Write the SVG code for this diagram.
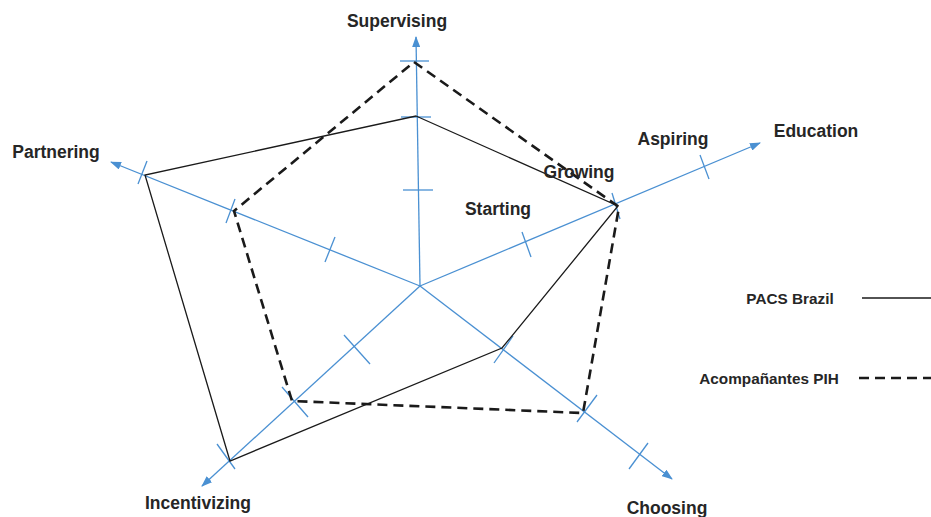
<svg xmlns="http://www.w3.org/2000/svg" width="931" height="517" viewBox="0 0 931 517">
<defs>
<marker id="arr" markerUnits="userSpaceOnUse" markerWidth="11" markerHeight="8" refX="10" refY="4" orient="auto">
<path d="M0,0 L11,4 L0,8 z" fill="#4a90d2"/>
</marker>
<style>
.ax{stroke:#4a90d2;stroke-width:1.3;fill:none}
.tk{stroke:#4a90d2;stroke-width:1.3}
.sol{stroke:#1a1a1a;stroke-width:1.3;fill:none}
.dash{stroke:#1a1a1a;stroke-width:2.6;fill:none;stroke-dasharray:10 6}
.lbl{font-family:"Liberation Sans",Arial,sans-serif;font-weight:bold;font-size:17.5px;fill:#262626}
.leg{font-family:"Liberation Sans",Arial,sans-serif;font-weight:bold;font-size:15.3px;fill:#262626}
</style>
</defs>
<rect width="931" height="517" fill="#ffffff"/>
<g id="connectors">
<g id="axes">
<line class="ax" x1="420" y1="286" x2="416" y2="37" marker-end="url(#arr)"/>
<line class="ax" x1="420" y1="286" x2="760" y2="143" marker-end="url(#arr)"/>
<line class="ax" x1="420" y1="286" x2="672" y2="479" marker-end="url(#arr)"/>
<line class="ax" x1="420" y1="286" x2="202" y2="486" marker-end="url(#arr)"/>
<line class="ax" x1="420" y1="286" x2="111" y2="162" marker-end="url(#arr)"/>
</g>
<g id="ticks">
<line class="tk" x1="403" y1="190" x2="433" y2="190"/>
<line class="tk" x1="401" y1="117" x2="431" y2="117"/>
<line class="tk" x1="400" y1="61" x2="429" y2="61"/>
<line class="tk" x1="522" y1="232" x2="531" y2="257"/>
<line class="tk" x1="612" y1="193" x2="620" y2="219"/>
<line class="tk" x1="700" y1="155" x2="709" y2="179"/>
<line class="tk" x1="494" y1="363" x2="513" y2="336"/>
<line class="tk" x1="577" y1="422" x2="597" y2="395"/>
<line class="tk" x1="629" y1="469" x2="648" y2="443"/>
<line class="tk" x1="344" y1="335" x2="370" y2="364"/>
<line class="tk" x1="282" y1="387" x2="308" y2="417"/>
<line class="tk" x1="217" y1="444" x2="235" y2="469"/>
<line class="tk" x1="325" y1="262" x2="335" y2="237"/>
<line class="tk" x1="226" y1="223" x2="235" y2="199"/>
<line class="tk" x1="138" y1="184" x2="147" y2="161"/>
</g>
<polygon id="pacs" class="sol" points="416,116 618,206 502,348 230,461 145,175"/>
<polygon id="acomp" class="dash" points="414,62 619,207 583,413 292,401 234,211"/>
<line class="sol" x1="862" y1="298" x2="931" y2="298"/>
<line class="dash" x1="859" y1="378" x2="931" y2="378"/>
</g>
<g id="labels">
<text class="lbl" x="397" y="27" text-anchor="middle">Supervising</text>
<text class="lbl" x="56" y="158" text-anchor="middle">Partnering</text>
<text class="lbl" x="816" y="137" text-anchor="middle">Education</text>
<text class="lbl" x="673" y="145" text-anchor="middle">Aspiring</text>
<text class="lbl" x="579" y="178" text-anchor="middle">Growing</text>
<text class="lbl" x="498" y="215" text-anchor="middle">Starting</text>
<text class="lbl" x="198" y="509" text-anchor="middle">Incentivizing</text>
<text class="lbl" x="667" y="514" text-anchor="middle">Choosing</text>
</g>
<g id="legend">
<text class="leg" x="790" y="304" text-anchor="middle">PACS Brazil</text>
<text class="leg" x="769" y="384" text-anchor="middle">Acompañantes PIH</text>
</g>
</svg>
